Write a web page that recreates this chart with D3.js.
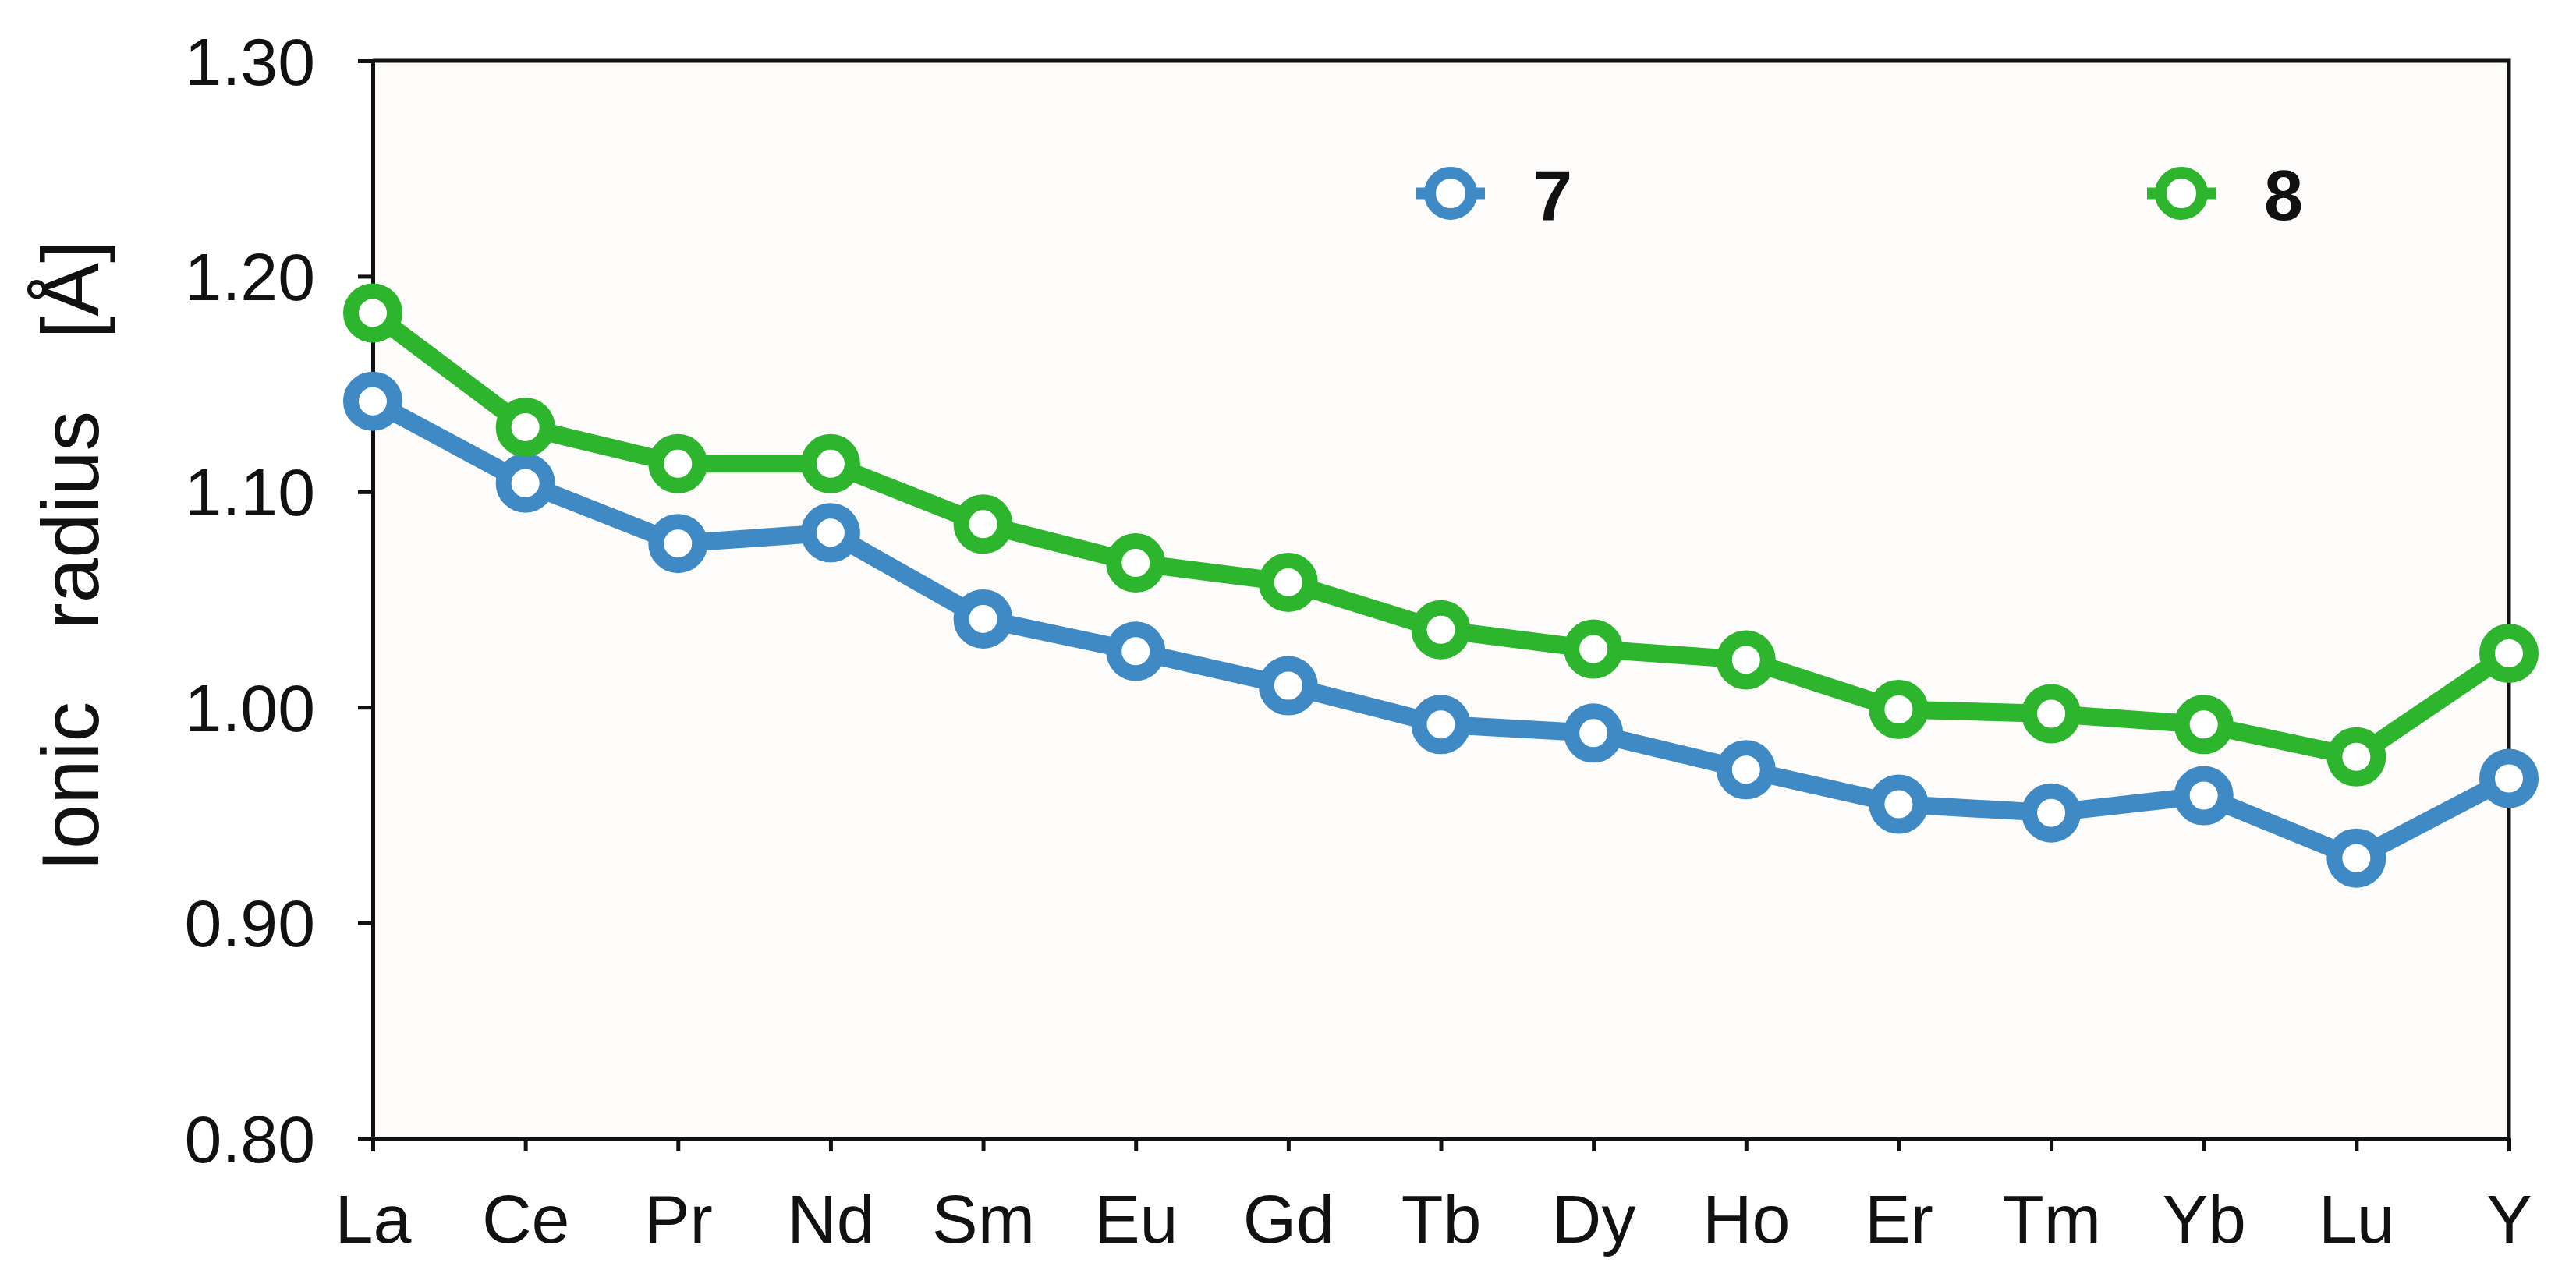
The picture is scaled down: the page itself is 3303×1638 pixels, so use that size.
<!DOCTYPE html>
<html>
<head>
<meta charset="utf-8">
<script src="https://cdn.jsdelivr.net/npm/d3@7"></script>
<style>
  body { margin: 0; background: #ffffff; }
  text { font-family: "Liberation Sans", Arial, Helvetica, sans-serif; fill: #111; }
</style>
</head>
<body>
<div id="chart"></div>
<script>
var elements = ["La","Ce","Pr","Nd","Sm","Eu","Gd","Tb","Dy","Ho","Er","Tm","Yb","Lu","Y"];
var cn7 = [1.142,1.104,1.076,1.081,1.041,1.026,1.010,0.992,0.988,0.971,0.955,0.951,0.959,0.930,0.967];
var cn8 = [1.183,1.130,1.113,1.113,1.085,1.067,1.058,1.036,1.027,1.022,0.999,0.997,0.992,0.977,1.025];
var yTicks = [0.80,0.90,1.00,1.10,1.20,1.30];
var seriesNames = ["7","8"];
var colors = ["#3f8ac5","#2db52e"];

var W = 3303, H = 1638;
var m = {left: 478, right: 3217, top: 78, bottom: 1460};

var svg = d3.select("div#chart")
  .append("svg")
  .attr("width", W)
  .attr("height", H);

var x = d3.scalePoint().domain(elements).range([m.left, m.right]).padding(0);
var y = d3.scaleLinear().domain([0.8, 1.3]).range([m.bottom, m.top]);

// plot background
svg.append("rect")
  .attr("x", m.left).attr("y", m.top)
  .attr("width", m.right - m.left).attr("height", m.bottom - m.top)
  .attr("fill", "#fdfcfa");

// left axis
var gy = svg.append("g")
  .attr("transform", "translate(" + m.left + ",0)")
  .call(d3.axisLeft(y).tickValues(yTicks).tickFormat(d3.format(".2f")).tickSize(19).tickSizeOuter(0).tickPadding(55));
gy.selectAll("text").attr("font-size", 86).attr("dy", "0.35em");

// bottom axis
var gx = svg.append("g")
  .attr("transform", "translate(0," + m.bottom + ")")
  .call(d3.axisBottom(x).tickSize(17).tickSizeOuter(0));
gx.selectAll("text").attr("font-size", 88).attr("y", 134).attr("dy", 0);

svg.selectAll(".domain, .tick line").attr("stroke", "#111").attr("stroke-width", 5);

// top and right frame
svg.append("path")
  .attr("d", d3.line()([[m.left, m.top], [m.right, m.top], [m.right, m.bottom]]))
  .attr("fill", "none").attr("stroke", "#111").attr("stroke-width", 5);

// y label
svg.append("text")
  .attr("transform", "translate(126," + 713 + ") rotate(-90)")
  .attr("text-anchor", "middle")
  .attr("font-size", 103)
  .style("word-spacing", "64px")
  .text("Ionic radius [Å]");

// series
var series = [cn7, cn8];
var line = d3.line().x(function(d,i) { return x(elements[i]); }).y(function(d) { return y(d); });

series.forEach(function(vals, s) {
  var g = svg.append("g");
  g.append("path")
    .attr("d", line(vals))
    .attr("fill", "none")
    .attr("stroke", colors[s])
    .attr("stroke-width", 23)
    .attr("stroke-linejoin", "round");
  g.selectAll("circle").data(vals)
    .enter().append("circle")
    .attr("cx", function(d,i) { return x(elements[i]); })
    .attr("cy", function(d) { return y(d); })
    .attr("r", 28)
    .attr("fill", "#ffffff")
    .attr("stroke", colors[s])
    .attr("stroke-width", 20);
});

// legend
var legX = [1860, 2797];
var legY = 248;
seriesNames.forEach(function(name, s) {
  var g = svg.append("g").attr("transform", "translate(" + legX[s] + "," + legY + ")");
  g.append("line")
    .attr("x1", -44).attr("x2", 44)
    .attr("stroke", colors[s]).attr("stroke-width", 15);
  g.append("circle")
    .attr("r", 26.5)
    .attr("fill", "#ffffff")
    .attr("stroke", colors[s])
    .attr("stroke-width", 15);
  g.append("text")
    .attr("x", 106).attr("y", 34)
    .attr("font-size", 90)
    .attr("font-weight", "bold")
    .text(name);
});
</script>
</body>
</html>
